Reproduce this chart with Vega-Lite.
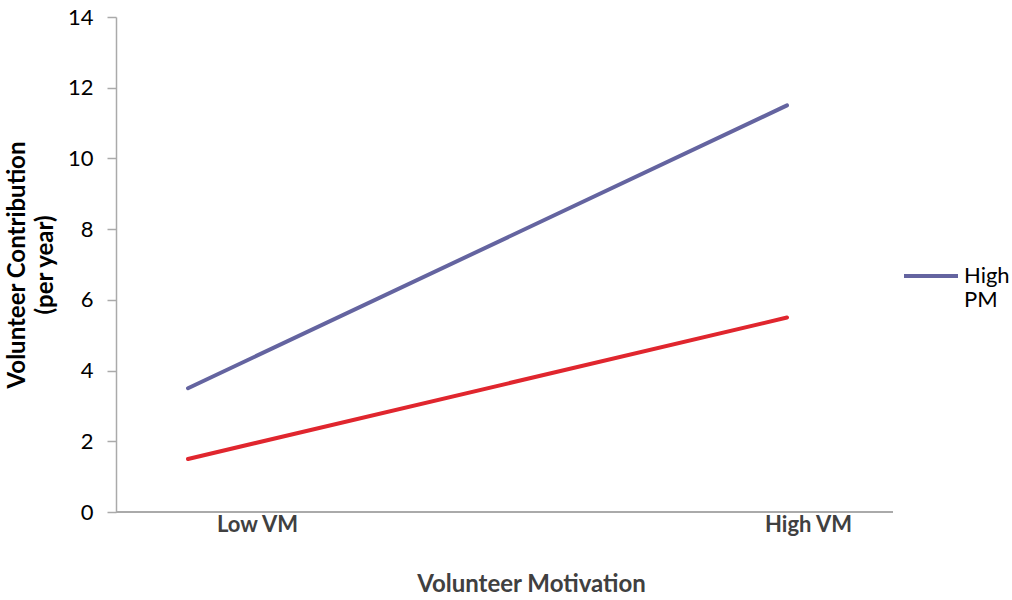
{
  "$schema": "https://vega.github.io/schema/vega-lite/v6.json",
  "width": 777,
  "height": 495,
  "autosize": {"type": "none"},
  "padding": {"left": 116, "top": 17, "right": 119, "bottom": 88},
  "background": "white",
  "config": {
    "view": {"stroke": null},
    "font": "Lato",
    "axis": {"labelFont": "Lato", "titleFont": "Lato"}
  },
  "data": {
    "values": [
      {"vm": "Low VM", "pm": "High PM", "value": 3.5},
      {"vm": "High VM", "pm": "High PM", "value": 11.5},
      {"vm": "Low VM", "pm": "Low PM", "value": 1.5},
      {"vm": "High VM", "pm": "Low PM", "value": 5.5}
    ]
  },
  "layer": [
    {
      "mark": {"type": "rule", "color": "#aaaaaa", "strokeWidth": 1.5},
      "encoding": {"y": {"datum": 0, "type": "quantitative"}}
    },
    {
      "mark": {"type": "line", "strokeWidth": 4, "strokeCap": "round"},
      "encoding": {
        "x": {
          "field": "vm",
          "type": "ordinal",
          "sort": ["Low VM", "High VM"],
          "scale": {"type": "point", "range": [72, 671], "padding": 0},
          "axis": {
            "title": "Volunteer Motivation",
            "titleFontSize": 24,
            "titleFontWeight": "bold",
            "titleColor": "#404040",
            "titleX": 415,
            "titleY": 60,
            "titleBaseline": "top",
            "domain": false,
            "ticks": false,
            "labelAngle": 0,
            "labelFontSize": 22,
            "labelFontWeight": "bold",
            "labelColor": "#404040",
            "labelPadding": 2,
            "labelOffset": {"condition": {"test": "datum.value == 'Low VM'", "value": 69}, "value": 21}
          }
        },
        "y": {
          "field": "value",
          "type": "quantitative",
          "scale": {"domain": [0, 14]},
          "axis": {
            "values": [0, 2, 4, 6, 8, 10, 12, 14],
            "title": ["Volunteer Contribution", "(per year)"],
            "titleFontSize": 24,
            "titleFontWeight": "bold",
            "titleColor": "#000000",
            "titlePadding": 10,
            "titleLineHeight": 28,
            "grid": false,
            "domainColor": "#aaaaaa",
            "domainWidth": 1.5,
            "tickColor": "#aaaaaa",
            "tickWidth": 1.5,
            "tickSize": 9,
            "labelFontSize": 22,
            "labelColor": "#000000",
            "labelPadding": 14
          }
        },
        "color": {
          "field": "pm",
          "type": "nominal",
          "scale": {"domain": ["High PM", "Low PM"], "range": ["#6464a0", "#e0262e"]},
          "legend": {
            "title": null,
            "values": ["High PM"],
            "orient": "none",
            "legendX": 786,
            "legendY": 230,
            "symbolType": "stroke",
            "symbolSize": 2916,
            "symbolStrokeWidth": 4,
            "labelFontSize": 22,
            "labelColor": "#000000",
            "labelFont": "Lato",
            "labelExpr": "datum.label == 'High PM' ? ['High', 'PM'] : datum.label",
            "labelOffset": 4
          }
        }
      }
    }
  ]
}
